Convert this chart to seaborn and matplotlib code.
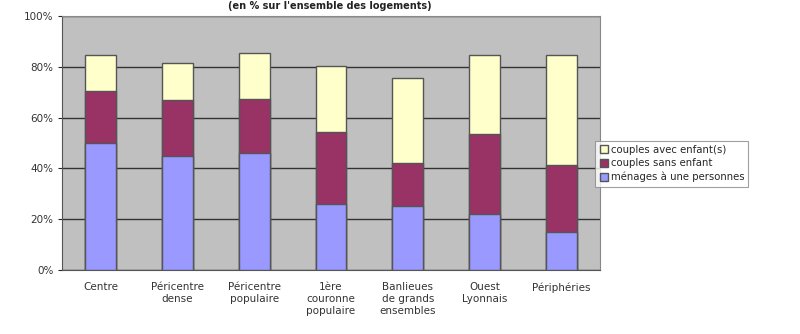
import pandas as pd
import matplotlib
matplotlib.use('Agg')
import matplotlib.pyplot as plt
import seaborn as sns
from matplotlib.patches import Patch

# values (% of all dwellings)
categories = ['Centre', 'Péricentre\ndense', 'Péricentre\npopulaire', '1ère\ncouronne\npopulaire',
              'Banlieues\nde grands\nensembles', 'Ouest\nLyonnais', 'Périphéries']
menages_seuls = [50, 45, 46, 26, 25, 22, 15]
couples_sans = [20.5, 22, 21.5, 28.5, 17, 31.5, 26.5]
couples_avec = [14, 14.5, 18, 26, 33.5, 31, 43]

df = pd.DataFrame({'cat': categories, 'seul': menages_seuls,
                   'sans': couples_sans, 'avec': couples_avec})
df['lvl2'] = df['seul'] + df['sans']
df['lvl3'] = df['lvl2'] + df['avec']

sns.set_style('white')
plt.rcParams['font.family'] = ['DejaVu Sans']

fig = plt.figure(figsize=(8, 3.34), dpi=100)
ax = fig.add_axes([0.0775, 0.192, 0.6725, 0.76])
ax.set_facecolor('#C0C0C0')

c_blue = '#9999FF'
c_purple = '#993366'
c_yellow = '#FFFFCC'
edge = '#555555'

sns.barplot(data=df, x='cat', y='lvl3', color=c_yellow, width=0.4, edgecolor=edge,
            linewidth=1, saturation=1, ax=ax, zorder=3)
sns.barplot(data=df, x='cat', y='lvl2', color=c_purple, width=0.4, edgecolor=edge,
            linewidth=1, saturation=1, ax=ax, zorder=3)
sns.barplot(data=df, x='cat', y='seul', color=c_blue, width=0.4, edgecolor=edge,
            linewidth=1, saturation=1, ax=ax, zorder=3)

ax.set_ylim(0, 100)
ax.set_xlim(-0.5, 6.5)
ax.set_yticks(range(0, 101, 20))
ax.set_yticklabels([f'{v}%' for v in range(0, 101, 20)], fontsize=7.5, color='#333333')
ax.set_xticks(range(len(categories)))
ax.set_xticklabels(categories, fontsize=7.5, color='#333333', linespacing=1.25)
ax.yaxis.grid(True, color='#333333', linewidth=1, zorder=1)
ax.set_axisbelow(True)
ax.set_xlabel('')
ax.set_ylabel('')
ax.tick_params(axis='y', length=3, pad=3, left=True)
ax.tick_params(axis='x', length=0, pad=9)
for s in ['top', 'right']:
    ax.spines[s].set_color('#888888')
ax.spines['left'].set_color('#555555')
ax.spines['bottom'].set_color('#555555')

fig.text(0.4125, 0.998, "(en % sur l'ensemble des logements)", ha='center', va='top',
         fontsize=7, fontweight='bold', color='#222222')

handles = [Patch(facecolor=c_yellow, edgecolor=edge, label='couples avec enfant(s)'),
           Patch(facecolor=c_purple, edgecolor=edge, label='couples sans enfant'),
           Patch(facecolor=c_blue, edgecolor=edge, label='ménages à une personnes')]
leg = fig.legend(handles=handles, loc='center left', bbox_to_anchor=(0.738, 0.51),
                 fontsize=7.3, frameon=True, fancybox=False, handlelength=0.8,
                 handleheight=0.8, handletextpad=0.3, borderpad=0.4, labelspacing=0.35)
leg.get_frame().set_edgecolor('#888888')
leg.get_frame().set_linewidth(0.8)

fig.savefig('out.png', dpi=100)
